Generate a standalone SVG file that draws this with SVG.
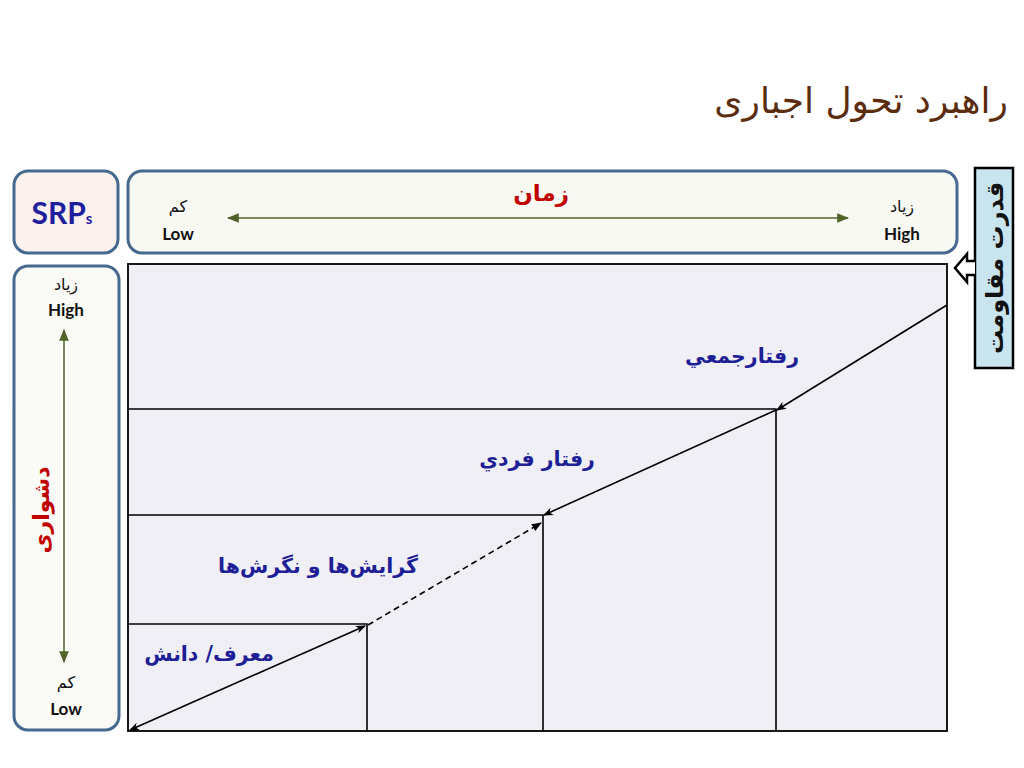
<svg xmlns="http://www.w3.org/2000/svg" width="1024" height="768" viewBox="0 0 1024 768">
<style>
.box{stroke:#46698f;stroke-width:3}
.lat{font-family:Lato,"Open Sans","DejaVu Sans",sans-serif;font-weight:bold;fill:#111;font-size:17px;text-anchor:middle}
.ar{font-family:"DejaVu Sans","Noto Sans",sans-serif;fill:#111;font-size:16px;text-anchor:middle}
.lbl{font-family:"DejaVu Sans","Noto Sans",sans-serif;font-weight:bold;fill:#1e1e96;font-size:20.5px;text-anchor:middle}
.ln{stroke:#000;stroke-width:1.6;fill:none}
.grn{stroke:#4f6228;stroke-width:1.5;fill:none}
</style>
<defs>
<marker id="ahs" viewBox="0 0 10 10" refX="9" refY="5" markerWidth="10" markerHeight="10" orient="auto-start-reverse" markerUnits="userSpaceOnUse">
<path d="M0,1 L10,5 L0,9 L3,5 Z" fill="#000"/>
</marker>
<marker id="ahf" viewBox="0 0 10 10" refX="9" refY="5" markerWidth="10" markerHeight="10" orient="auto-start-reverse" markerUnits="userSpaceOnUse">
<path d="M0,1 L10,5 L0,9 Z" fill="#000"/>
</marker>
<marker id="ag" viewBox="0 0 10 10" refX="9" refY="5" markerWidth="12" markerHeight="12" orient="auto-start-reverse" markerUnits="userSpaceOnUse">
<path d="M0,1 L10,5 L0,9 Z" fill="#4f6228"/>
</marker>
</defs>
<rect width="1024" height="768" fill="#fff"/>

<g id="title">
<text x="1008" y="113" text-anchor="end" font-family="DejaVu Sans,Noto Sans,sans-serif" font-size="36" fill="#5b2c0e">راهبرد تحول اجباری</text>
</g>

<g id="srps">
<rect x="14" y="171" width="104" height="82" rx="14" fill="#fcf1ec" class="box"/>
<text x="62" y="224" font-family="Lato,Open Sans,sans-serif" font-weight="bold" font-size="30" fill="#1f1f9e" text-anchor="middle">SRP<tspan font-size="15">s</tspan></text>
</g>

<g id="time-header">
<rect x="128" y="171" width="829" height="82" rx="14" fill="#f9f9f4" class="box"/>
<text x="541" y="201" font-family="DejaVu Sans,Noto Sans,sans-serif" font-weight="bold" font-size="23" fill="#c00000" text-anchor="middle">زمان</text>
<text x="178" y="212" class="ar">کم</text>
<text x="178" y="240" class="lat">Low</text>
<text x="902" y="212" class="ar">زیاد</text>
<text x="902" y="240" class="lat">High</text>
</g>

<g id="difficulty">
<rect x="14" y="266" width="105" height="464" rx="14" fill="#fafaf6" class="box"/>
<text x="66" y="290" class="ar">زیاد</text>
<text x="66" y="316" class="lat">High</text>
<text x="66" y="688" class="ar">کم</text>
<text x="66" y="715" class="lat">Low</text>
<text transform="translate(49,510) rotate(-90)" font-family="DejaVu Sans,Noto Sans,sans-serif" font-weight="bold" font-size="22" fill="#c00000" text-anchor="middle">دشواری</text>
</g>

<g id="resistance">
<rect x="975" y="168" width="38" height="200" fill="#c8e4ef" stroke="#000" stroke-width="2.5"/>
<text transform="translate(1003,268) rotate(-90)" font-family="DejaVu Sans,Noto Sans,sans-serif" font-weight="bold" font-size="24" fill="#111" text-anchor="middle">قدرت مقاومت</text>
<path d="M975,261 L967,261 L967,254 L955,268 L967,282 L967,275 L975,275" fill="#fff" stroke="#000" stroke-width="2.5"/>
</g>

<g id="chart">
<rect x="128" y="264" width="819" height="467" fill="#f0eff5" stroke="#000" stroke-width="1.8"/>
<path class="ln" d="M128,409 H776 V731"/>
<path class="ln" d="M128,515 H543 V731"/>
<path class="ln" d="M128,624 H367 V731"/>
<text x="742" y="363" class="lbl">رفتارجمعي</text>
<text x="537" y="466" class="lbl">رفتار فردي</text>
<text x="318" y="573" class="lbl">گرایش‌ها و نگرش‌ها</text>
<text x="209" y="661" class="lbl">معرف/ دانش</text>
</g>

<g id="connectors">
<line class="grn" x1="228" y1="218" x2="848" y2="218" marker-start="url(#ag)" marker-end="url(#ag)"/>
<line class="grn" x1="64" y1="330" x2="64" y2="662" marker-start="url(#ag)" marker-end="url(#ag)"/>
<line class="ln" x1="947" y1="305" x2="777" y2="410" marker-end="url(#ahs)"/>
<line class="ln" x1="776" y1="410" x2="544" y2="515" marker-end="url(#ahs)"/>
<line class="ln" x1="368" y1="625" x2="541" y2="523" stroke-dasharray="6,4" marker-end="url(#ahf)"/>
<line class="ln" x1="130" y1="730" x2="365" y2="626" marker-start="url(#ahs)" marker-end="url(#ahs)"/>
</g>
</svg>
